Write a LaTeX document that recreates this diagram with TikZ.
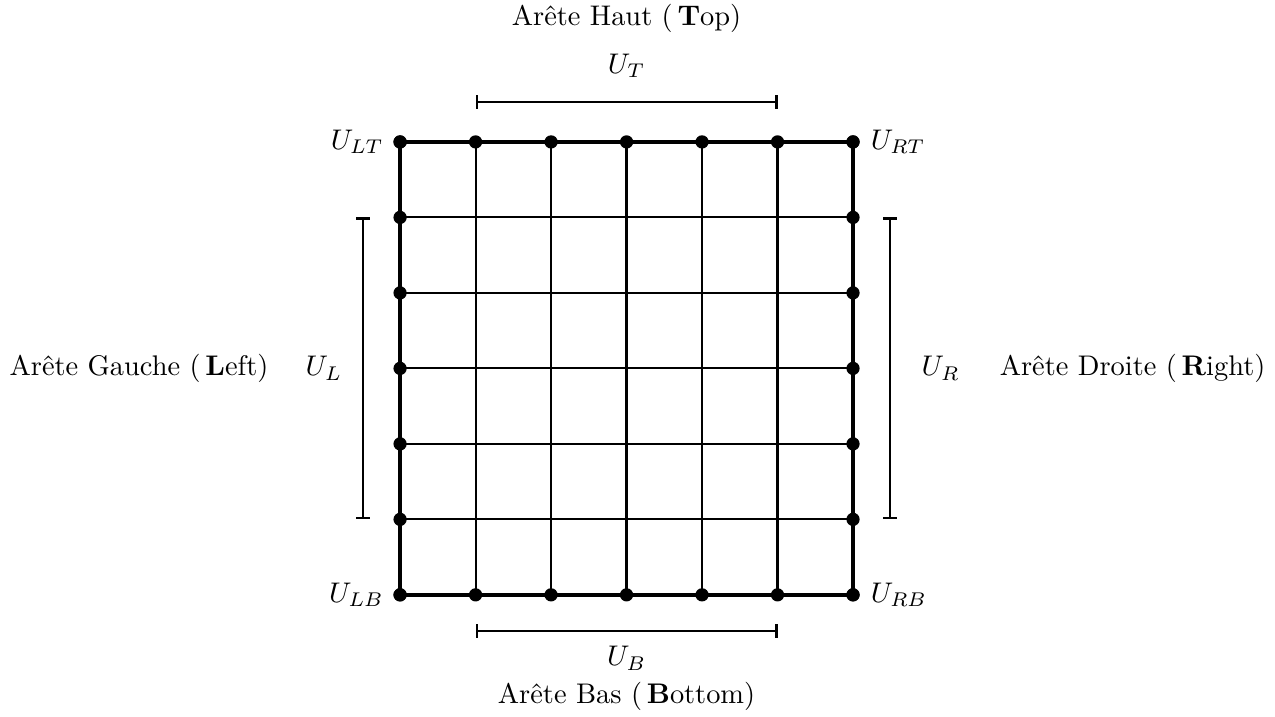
\documentclass[tikz,border=0pt]{standalone}
\usepackage{fix-cm}
\usepackage{amsmath}
\usetikzlibrary{arrows.meta,positioning}
\tikzset{
  bord/.style={line width=1.6pt},
  cote/.style={thick,{Bar[width=5pt]}-{Bar[width=5pt]}},
  pt/.style={circle,fill,inner sep=0pt,minimum size=5pt}
}
\begin{document}
\begin{tikzpicture}[font=\fontsize{10.7pt}{13pt}\selectfont]
\useasboundingbox (-5.30,-1.616) rectangle (11.59,7.88);
% grille
\foreach \i in {1,...,5} {
  \draw[thick] (\i,0) -- (\i,6);
  \draw[thick] (0,\i) -- (6,\i);
}
\draw[bord] (0,0) rectangle (6,6);
% points sur les aretes
\foreach \i in {0,...,6} {
  \node[pt] (b\i) at (\i,0) {};
  \node[pt] (h\i) at (\i,6) {};
  \node[pt] (g\i) at (0,\i) {};
  \node[pt] (d\i) at (6,\i) {};
}
% coins
\node[left=0pt of h0] (ult) {$U_{LT}$};
\node[right=0.5pt of h6] (urt) {$U_{RT}$};
\node[left=0pt of b0] (ulb) {$U_{LB}$};
\node[right=0.5pt of b6] (urb) {$U_{RB}$};
% cotes
\coordinate (ht1) at (1,6.53);
\coordinate (ht2) at (5,6.53);
\coordinate (bs1) at (1,-0.48);
\coordinate (bs2) at (5,-0.48);
\coordinate (gc1) at (-0.49,5);
\coordinate (gc2) at (-0.49,1);
\coordinate (dr1) at (6.49,5);
\coordinate (dr2) at (6.49,1);
\draw[cote] (ht1) -- (ht2);
\draw[cote] (bs1) -- (bs2);
\draw[cote] (gc1) -- (gc2);
\draw[cote] (dr1) -- (dr2);
\node (ut) at (3,7.01) {$U_T$};
\node (ub) at (3,-0.84) {$U_B$};
\node (ul) at (-1.01,3) {$U_L$};
\node (ur) at (7.16,3) {$U_R$};
% titres
\node (haut) at (3,7.64) {Arête Haut (\,\textbf{T}op)};
\node (bas) at (3,-1.34) {Arête Bas (\,\textbf{B}ottom)};
\node[anchor=east] (gauche) at (-1.62,3) {Arête Gauche (\,\textbf{L}eft)};
\node[anchor=west] (droite) at (7.82,3) {Arête Droite (\,\textbf{R}ight)};
\end{tikzpicture}
\end{document}
